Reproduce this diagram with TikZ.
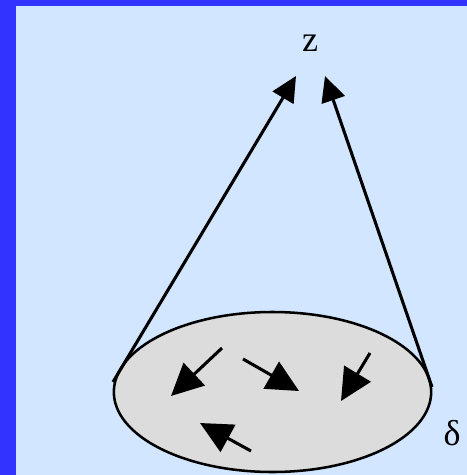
\documentclass[tikz,border=0pt]{standalone}
\usepackage{fontspec}
\setmainfont{Liberation Serif}
\usepackage{tikz}
\usetikzlibrary{positioning,arrows.meta,shapes.geometric}
\definecolor{frameblue}{RGB}{51,51,255}
\definecolor{paleblue}{RGB}{210,230,255}
\definecolor{diskgray}{RGB}{220,220,220}

\begin{document}
\begin{tikzpicture}[
  x=0.75pt, y=-0.75pt,
  lbl/.style={font=\fontsize{27}{30}\selectfont, inner sep=0pt},
  disk/.style={draw, ellipse, line width=1.9pt, fill=diskgray, inner sep=0pt},
  ray/.style={-{Triangle[length=19pt, width=18pt]}, line width=2.3pt},
  spin/.style={-{Triangle[length=24pt, width=23pt]}, line width=2.3pt},
]

% Frame and background
\fill[frameblue] (0,0) rectangle (467,475);
\fill[paleblue] (16,6) rectangle (467,475);
\useasboundingbox (0,0) rectangle (467,475);

% Labels
\node[lbl] (z) at (310,43) {z};
\node[disk, minimum width=238pt, minimum height=120pt] (plane) at (272.5,392) {};
\node[lbl] (delta) at (452,433) {δ};

% Rays from the rim up to z
\coordinate (rimL) at (113,382);
\coordinate (rimR) at (432,387);
\coordinate (tipL) at (296,76);
\coordinate (tipR) at (325,76);
\draw[ray] (rimL) -- (tipL);
\draw[ray] (rimR) -- (tipR);

% Spins inside the disk
\coordinate (s1) at (222,348);  \coordinate (e1) at (171,396);
\coordinate (s2) at (243,359);  \coordinate (e2) at (299,391);
\coordinate (s3) at (370,353);  \coordinate (e3) at (341,401);
\coordinate (s4) at (251,451);  \coordinate (e4) at (200,423);
\draw[spin] (s1) -- (e1);
\draw[spin] (s2) -- (e2);
\draw[spin] (s3) -- (e3);
\draw[spin] (s4) -- (e4);

\end{tikzpicture}
\end{document}
